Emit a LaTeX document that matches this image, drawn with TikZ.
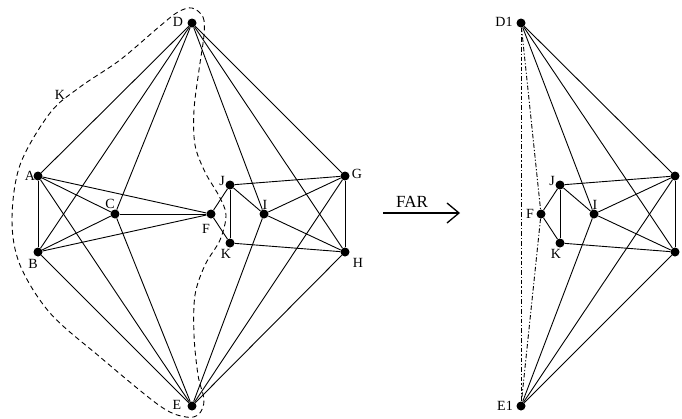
\documentclass[tikz,border=0pt]{standalone}
\usepackage{fontspec}
\setmainfont{Liberation Serif}
\usetikzlibrary{arrows.meta}
\begin{document}
\begin{tikzpicture}[x=1pt,y=-1pt,
  vtx/.style={circle,fill=black,inner sep=0pt,minimum size=9pt},
  lab/.style={inner sep=0pt,font=\fontsize{14}{16}\selectfont},
  edge/.style={line width=0.9pt},
  dsh/.style={line width=0.9pt,dash pattern=on 5pt off 3.5pt},
  dshdot/.style={line width=0.9pt,dash pattern=on 4.5pt off 2pt on 1.2pt off 2pt}]
\useasboundingbox (0,0) rectangle (682,418);
% left graph vertices
\node[vtx] (D) at (192,23) {};
\node[vtx] (A) at (38,176) {};
\node[vtx] (B) at (38,252) {};
\node[vtx] (C) at (115,214) {};
\node[vtx] (F) at (211,214) {};
\node[vtx] (J) at (230,185) {};
\node[vtx] (I) at (264,214) {};
\node[vtx] (K) at (230,243) {};
\node[vtx] (G) at (345,176) {};
\node[vtx] (H) at (345,252) {};
\node[vtx] (E) at (192,406) {};
% labels
\node[lab] (lD) at (178,22) {D};
\node[lab] (lA) at (30,176) {A};
\node[lab] (lB) at (33,264) {B};
\node[lab] (lC) at (110,204) {C};
\node[lab] (lF) at (206,229) {F};
\node[lab] (lJ) at (222,181) {J};
\node[lab] (lI) at (265,205) {I};
\node[lab] (lK) at (226,254) {K};
\node[lab] (lG) at (357,174) {G};
\node[lab] (lH) at (358,263) {H};
\node[lab] (lE) at (177,405) {E};
\node[lab] (lKK) at (60,95) {K};
% left edges
\foreach \u/\v in {D/A,D/B,D/C,D/I,D/H,D/G,
  A/B,A/C,A/F,A/E,B/C,B/F,B/E,C/F,C/E,
  F/J,F/K,J/K,J/I,J/G,K/H,I/G,I/H,I/E,G/H,G/E,H/E}
  \draw[edge] (\u) -- (\v);
% dashed closed curve
\draw[dsh] plot[smooth cycle,tension=0.55] coordinates {
 (192,8) (203,17) (204,35) (199,70) (194,110) (195,145) (205,172) (219,196)
 (226,215) (220,240) (205,265) (195,295) (194,335) (198,375) (204,400)
 (199,414) (186,417) (160,406) (100,357) (50,313) (20,265) (12,220)
 (20,165) (50,113) (80,87) (120,60) (160,26) (178,12)};
% FAR arrow
\coordinate (fa1) at (383,213);
\coordinate (fa2) at (460,213);
\draw[line width=1.3pt,-{Straight Barb[length=12pt,width=20pt,line width=1.3pt]}] (fa1) -- (fa2);
\node[inner sep=0pt,font=\fontsize{17}{19}\selectfont] (far) at (412,202) {FAR};
% right graph
\node[vtx] (D1) at (521,23) {};
\node[vtx] (J1) at (560,185) {};
\node[vtx] (F1) at (541,214) {};
\node[vtx] (I1) at (594,214) {};
\node[vtx] (K1) at (560,243) {};
\node[vtx] (G1) at (675,176) {};
\node[vtx] (H1) at (675,252) {};
\node[vtx] (E1) at (521,406) {};
\node[lab] (lD1) at (504,22) {D1};
\node[lab] (lJ1) at (552,181) {J};
\node[lab] (lF1) at (530,214) {F};
\node[lab] (lI1) at (595,205) {I};
\node[lab] (lK1) at (556,254) {K};
\node[lab] (lG1) at (687,174) {G};
\node[lab] (lH1) at (688,263) {H};
\node[lab] (lE1) at (505,406) {E1};
\foreach \u/\v in {D1/I1,D1/H1,D1/G1,J1/F1,J1/K1,J1/I1,J1/G1,F1/K1,K1/H1,
  I1/G1,I1/H1,G1/H1,E1/I1,E1/G1,E1/H1}
  \draw[edge] (\u) -- (\v);
\draw[dshdot] (D1) -- (E1);
\draw[dshdot] (D1) -- (F1);
\draw[dshdot] (F1) -- (E1);
\end{tikzpicture}
\end{document}
